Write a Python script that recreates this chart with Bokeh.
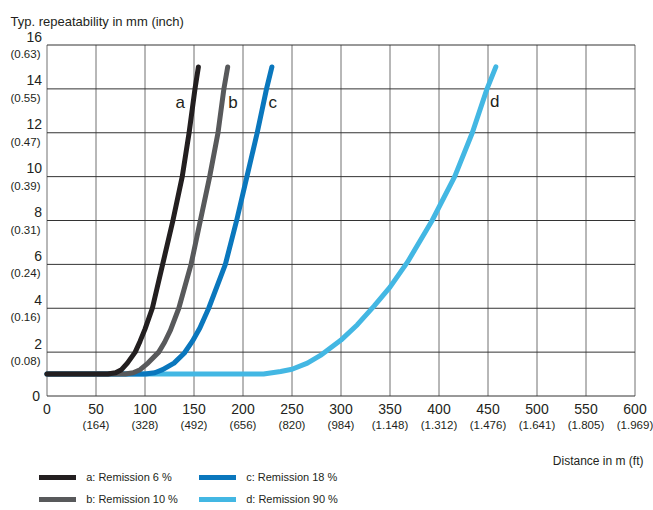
from bokeh.plotting import figure
from bokeh.models import (ColumnDataSource, LabelSet, Label, Legend, LegendItem, Range1d)
from bokeh.embed import file_html
from bokeh.resources import INLINE
from bokeh.core.properties import value

FONT = "Liberation Sans"
TXT = "#231f20"

# ---- data ----
a_x = [0, 62, 70, 76, 82, 90, 95, 100, 107.5, 118, 128.5, 138, 145, 151, 154.5]
a_y = [1, 1, 1.06, 1.2, 1.5, 2, 2.5, 3.05, 4, 6, 8, 10, 12, 14, 15]
b_x = [0, 80, 88, 95, 103, 114, 120, 126, 134.5, 147, 156.5, 166, 174.5, 180.5, 184.4]
b_y = [1, 1, 1.06, 1.2, 1.5, 2, 2.45, 3.0, 4, 6, 8, 10, 12, 14, 15]
c_x = [0, 100, 110, 118, 129.6, 140, 148.4, 156, 165, 182, 193.5, 204, 214.5, 224, 229.5]
c_y = [1, 1, 1.06, 1.2, 1.5, 1.95, 2.5, 3.1, 4, 6, 8, 10, 12, 14, 15]
d_x = [0, 221, 238.4, 250, 265.7, 279, 289.5, 300, 316.7, 333.7, 350, 367.8, 393, 416, 434, 449, 458]
d_y = [1, 1, 1.12, 1.22, 1.5, 1.85, 2.2, 2.55, 3.25, 4.1, 4.96, 6.1, 8, 10, 12, 14, 15]

series_names = ["a: Remission 6 %", "b: Remission 10 %", "c: Remission 18 %", "d: Remission 90 %"]
series_colors = ["#231f20", "#58595b", "#0a77bd", "#43b7e3"]

curve_letters = ["a", "b", "c", "d"]
curve_letter_x = [131, 185, 226, 452]
curve_letter_y = [13.14, 13.14, 13.14, 13.16]

x_ticks = [0, 50, 100, 150, 200, 250, 300, 350, 400, 450, 500, 550, 600]
x_ft = ["", "(164)", "(328)", "(492)", "(656)", "(820)", "(984)", "(1.148)",
        "(1.312)", "(1.476)", "(1.641)", "(1.805)", "(1.969)"]
y_ticks = [0, 2, 4, 6, 8, 10, 12, 14, 16]
y_inch = ["", "(0.08)", "(0.16)", "(0.24)", "(0.31)", "(0.39)", "(0.47)", "(0.55)", "(0.63)"]

y_title = "Typ. repeatability in mm (inch)"
x_title = "Distance in m (ft)"

X_MIN, X_MAX = x_ticks[0], x_ticks[-1]
Y_MIN, Y_MAX = y_ticks[0], y_ticks[-1]

# ---- figure: the frame spans the whole canvas, the chart area is 0..600 x 0..16 ----
W, H = 653, 510
left_px, px_per_m = 46.5, 588 / (X_MAX - X_MIN)
bottom_px, px_per_mm = 395.5, 351 / (Y_MAX - Y_MIN)
x_range = Range1d(-left_px / px_per_m, (W - left_px) / px_per_m)
y_range = Range1d(-(H - bottom_px) / px_per_mm, bottom_px / px_per_mm)

p = figure(width=W, height=H, x_range=x_range, y_range=y_range,
           output_backend="svg", toolbar_location=None,
           min_border=0, min_border_left=0, min_border_right=0,
           min_border_top=0, min_border_bottom=0)
p.axis.visible = False
p.grid.visible = False
p.outline_line_color = None
p.background_fill_color = "white"
p.border_fill_color = "white"

# grid lines (from the tick arrays)
p.segment(x0=x_ticks, x1=x_ticks, y0=[Y_MIN] * len(x_ticks), y1=[Y_MAX] * len(x_ticks),
          line_color="#707070", line_width=1)
p.segment(x0=[X_MIN] * len(y_ticks), x1=[X_MAX] * len(y_ticks), y0=y_ticks, y1=y_ticks,
          line_color="#333333", line_width=1)

# curves: d first so that a is on top
xs = [a_x, b_x, c_x, d_x]
ys = [a_y, b_y, c_y, d_y]
renderers = [None] * 4
for i in [3, 2, 1, 0]:
    renderers[i] = p.line(xs[i], ys[i], line_color=series_colors[i], line_width=5,
                          line_cap="round", line_join="round")

# curve letters
p.add_layout(LabelSet(x="x", y="y", text="t",
                      source=ColumnDataSource(dict(x=curve_letter_x, y=curve_letter_y, t=curve_letters)),
                      text_font=value(FONT), text_font_size="17px", text_color=TXT,
                      text_align="left", text_baseline="alphabetic"))

# y tick labels
ysrc = ColumnDataSource(dict(x=[X_MIN] * (len(y_ticks) - 1), y=y_ticks[1:],
                             num=[str(v) for v in y_ticks[1:]], inch=y_inch[1:]))
p.add_layout(LabelSet(x="x", y="y", text="num", source=ysrc, x_offset=-5, y_offset=3.5,
                      text_font=value(FONT), text_font_size="14px", text_color=TXT,
                      text_align="right", text_baseline="alphabetic"))
p.add_layout(LabelSet(x="x", y="y", text="inch", source=ysrc, x_offset=-6.5, y_offset=-13,
                      text_font=value(FONT), text_font_size="11.5px", text_color=TXT,
                      text_align="right", text_baseline="alphabetic"))
p.add_layout(LabelSet(x="x", y="y", text="num",
                      source=ColumnDataSource(dict(x=[X_MIN], y=[y_ticks[0]], num=[str(y_ticks[0])])),
                      x_offset=-7, text_font=value(FONT), text_font_size="14px", text_color=TXT,
                      text_align="right", text_baseline="middle"))

# x tick labels (m and ft)
xsrc = ColumnDataSource(dict(x=x_ticks, y=[Y_MIN] * len(x_ticks),
                             num=[str(v) for v in x_ticks], ft=x_ft))
p.add_layout(LabelSet(x="x", y="y", text="num", source=xsrc, y_offset=-17.5,
                      text_font=value(FONT), text_font_size="14px", text_color=TXT,
                      text_align="center", text_baseline="alphabetic"))
p.add_layout(LabelSet(x="x", y="y", text="ft", source=xsrc, y_offset=-32.5,
                      text_font=value(FONT), text_font_size="11.5px", text_color=TXT,
                      text_align="center", text_baseline="alphabetic"))

# axis titles
p.add_layout(Label(x=10, y=489, x_units="screen", y_units="screen", text=y_title,
                   text_font=FONT, text_font_size="13px", text_color=TXT,
                   text_align="left", text_baseline="alphabetic"))
p.add_layout(Label(x=643, y=49.4, x_units="screen", y_units="screen", text=x_title,
                   text_font=FONT, text_font_size="12px", text_color=TXT,
                   text_align="right", text_baseline="alphabetic"))

# legends (two columns)
def make_legend(idx, loc):
    return Legend(items=[LegendItem(label=series_names[i], renderers=[renderers[i]]) for i in idx],
                  location=loc, orientation="vertical",
                  glyph_width=37, glyph_height=14, label_height=14, spacing=8,
                  label_standoff=10, padding=0, margin=0,
                  border_line_color=None, background_fill_alpha=0,
                  label_text_font=FONT, label_text_font_size="11px", label_text_color=TXT)

p.add_layout(make_legend([0, 1], (39.2, 3.7)))
p.add_layout(make_legend([2, 3], (199.2, 3.7)))

open("out.html", "w").write(file_html(p, INLINE))
